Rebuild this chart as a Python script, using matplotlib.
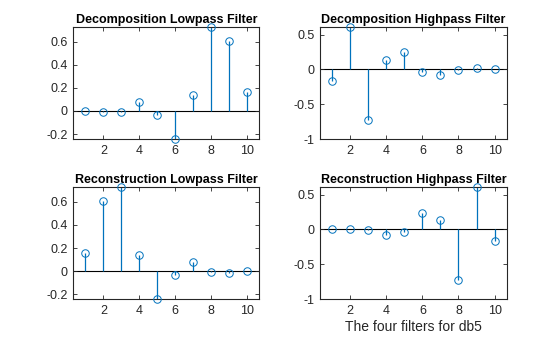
import matplotlib

matplotlib.use("Agg")

import matplotlib.pyplot as plt
import numpy as np

plt.rcParams["font.family"] = ["Liberation Sans", "DejaVu Sans"]

# db5 wavelet filter coefficients
taps = np.arange(1, 11)
lo_d = [0.0033, -0.0126, -0.0062, 0.0776, -0.0322, -0.2423, 0.1384, 0.7243, 0.6038, 0.1601]
hi_d = [-0.1601, 0.6038, -0.7243, 0.1384, 0.2423, -0.0322, -0.0776, -0.0062, 0.0126, 0.0033]
lo_r = [0.1601, 0.6038, 0.7243, 0.1384, -0.2423, -0.0322, 0.0776, -0.0062, -0.0126, 0.0033]
hi_r = [0.0033, 0.0126, -0.0062, -0.0776, -0.0322, 0.2423, 0.1384, -0.7243, 0.6038, -0.1601]

titles = [
    "Decomposition Lowpass Filter",
    "Decomposition Highpass Filter",
    "Reconstruction Lowpass Filter",
    "Reconstruction Highpass Filter",
]
x_ticks = [2, 4, 6, 8, 10]
lowpass_ticks = [-0.2, 0, 0.2, 0.4, 0.6]
lowpass_labels = ["-0.2", "0", "0.2", "0.4", "0.6"]
highpass_ticks = [-1, -0.5, 0, 0.5]
highpass_labels = ["-1", "-0.5", "0", "0.5"]

STEM_BLUE = "#0072BD"
AXIS_GREY = "#262626"

W, H = 560, 337
fig = plt.figure(figsize=(W / 100, H / 100), dpi=100)


def add_axes(left, top, right, bottom):
    return fig.add_axes([left / W, 1 - bottom / H, (right - left) / W, (bottom - top) / H])


boxes = [
    (73.3, 27.3, 259.3, 139.0),
    (320.0, 27.3, 506.7, 139.0),
    (73.3, 187.3, 259.3, 299.3),
    (320.0, 187.3, 506.7, 299.3),
]
series = [lo_d, hi_d, lo_r, hi_r]
ylims = [
    (min(lo_d), max(lo_d)),
    (-1, max(hi_d)),
    (min(lo_r), max(lo_r)),
    (-1, max(hi_r)),
]
yticks = [
    (lowpass_ticks, lowpass_labels),
    (highpass_ticks, highpass_labels),
    (lowpass_ticks, lowpass_labels),
    (highpass_ticks, highpass_labels),
]

for box, values, title, ylim, (ticks, labels) in zip(boxes, series, titles, ylims, yticks):
    ax = add_axes(*box)
    ax.axhline(0, color="black", linewidth=0.8, zorder=1)
    ax.vlines(taps, 0, values, color=STEM_BLUE, linewidth=0.9, zorder=2)
    ax.plot(taps, values, "o", markersize=5.4, markerfacecolor="none",
            markeredgecolor=STEM_BLUE, markeredgewidth=0.7, zorder=3, clip_on=False)
    ax.set_xlim(0.33, 10.67)
    ax.set_ylim(*ylim)
    ax.set_xticks(x_ticks, labels=[str(t) for t in x_ticks])
    ax.set_yticks(ticks, labels=labels)
    ax.set_title(title, fontsize=9, fontweight="bold", color="black", pad=3)
    ax.tick_params(direction="in", length=3, width=0.6, top=True, right=True,
                   labelsize=9, colors=AXIS_GREY, pad=4)
    for spine in ax.spines.values():
        spine.set_color(AXIS_GREY)
        spine.set_linewidth(0.8)
    if title.startswith("Reconstruction High"):
        ax.set_xlabel("The four filters for db5", fontsize=10, color=AXIS_GREY, labelpad=2)

fig.savefig("out.png", dpi=100)
